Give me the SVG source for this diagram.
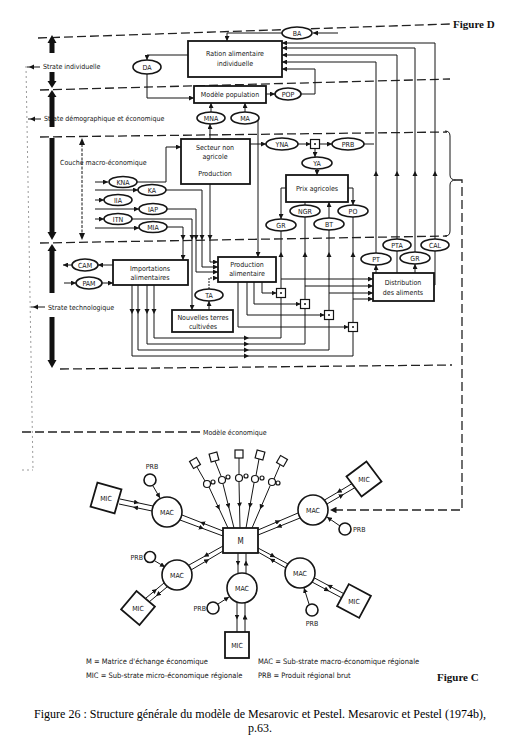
<svg xmlns="http://www.w3.org/2000/svg" width="520" height="740" viewBox="0 0 520 740">
<defs>
<style>
.ln{fill:none;stroke:#151515;stroke-width:1}
.bx{fill:#fff;stroke:#151515;stroke-width:1.8}
.el{fill:#fff;stroke:#151515;stroke-width:1.6}
.jn{fill:#fff;stroke:#151515;stroke-width:1.2}
.t{font-family:"Liberation Sans Narrow","DejaVu Sans Condensed","Liberation Sans",sans-serif;font-size:7px;fill:#151515;text-anchor:middle}
.tl{font-family:"Liberation Sans Narrow","DejaVu Sans Condensed","Liberation Sans",sans-serif;font-size:7px;fill:#151515;text-anchor:start}
.lg{font-family:"Liberation Sans Narrow","DejaVu Sans Condensed","Liberation Sans",sans-serif;font-size:7.5px;fill:#151515}
.dsh{fill:none;stroke:#222;stroke-width:1.3;stroke-dasharray:9 4}
.gd{fill:none;stroke:#9a9a9a;stroke-width:1;stroke-dasharray:2 3}
.bar{fill:#111}
.fig{font-family:"Liberation Serif",serif;font-weight:bold;font-size:11px;fill:#111}
.cap{font-family:"Liberation Serif",serif;font-size:12px;fill:#000;text-anchor:middle}
.ah{fill:#151515}
</style>
<marker id="a" viewBox="0 0 6 6" refX="6" refY="3" markerWidth="5" markerHeight="5" orient="auto"><path d="M0,0L6,3L0,6z" fill="#151515"/></marker>
<marker id="m" viewBox="0 0 6 6" refX="3" refY="3" markerWidth="5" markerHeight="5" orient="auto"><path d="M0,0L6,3L0,6z" fill="#151515"/></marker>
<path id="ah" d="M0,0L-5,-2.5L-5,2.5z"/>
</defs>

<!-- Figure D : strata -->
<g id="strata">
<path class="dsh" d="M38,38L450,24"/>
<path class="dsh" d="M40,90L450,79"/>
<path class="dsh" d="M40,137L447,132"/>
<path class="dsh" d="M40,243L447,236"/>
<path class="dsh" d="M60,369L452,365"/>
<path class="ln" d="M445,131Q450,131 450,136V175Q450,180 456,180Q450,180 450,185V231Q450,236 445,236"/>
<text class="fig" x="453" y="28">Figure D</text>
<path class="gd" d="M26,66L33,470M22,470H33"/>
<path class="ln" d="M27,67H40M28,119H41M31,307H45"/>
<use href="#ah" class="ah" transform="translate(29,67) rotate(180)"/>
<use href="#ah" class="ah" transform="translate(30,119) rotate(180)"/>
<use href="#ah" class="ah" transform="translate(33,307) rotate(180)"/>
<text class="tl" x="43" y="69">Strate individuelle</text>
<text class="tl" x="44" y="121">Strate démographique et économique</text>
<text class="tl" x="60" y="165">Couche macro-économique</text>
<text class="tl" x="48" y="310">Strate technologique</text>
<path class="dsh" d="M22,432H200"/>
<text class="tl" x="203" y="435">Modèle économique</text>
<g class="bar">
<polygon points="52,35 47.5,43 56.5,43"/><rect x="49.5" y="43" width="5" height="10"/>
<rect x="49.5" y="72" width="5" height="9"/><polygon points="47.5,81 56.5,81 52,88"/>
<polygon points="52,90 47.5,97 56.5,97"/><rect x="49.5" y="97" width="5" height="30"/>
<rect x="49.5" y="138" width="5" height="94"/><polygon points="47.5,232 56.5,232 52,240"/>
<polygon points="52,244 47.5,251 56.5,251"/><rect x="49.5" y="251" width="5" height="42"/>
<rect x="49.5" y="317" width="5" height="43"/><polygon points="47.5,360 56.5,360 52,368"/>
</g>
<path class="ln" d="M82,144V234" stroke-dasharray="3 1.5"/>
<polygon class="ah" points="82,138 79,145 85,145"/>
<polygon class="ah" points="82,240 79,233 85,233"/>
</g>

<g id="connectors">
<path class="ln" d="M338,33H313" marker-end="url(#a)"/>
<path class="ln" d="M282,33H227V41" marker-end="url(#a)"/>
<path class="ln" d="M188,55H147V60" marker-end="url(#a)"/>
<path class="ln" d="M147,74V98H194" marker-end="url(#a)"/>
<path class="ln" d="M266,94H275" marker-end="url(#a)"/>
<path class="ln" d="M301,94H315V69H282" marker-end="url(#a)"/>
<path class="ln" d="M211,112V103" marker-end="url(#a)"/>
<path class="ln" d="M245,112V103" marker-end="url(#a)"/>
<path class="ln" d="M210,139V124" marker-end="url(#a)"/>
<path class="ln" d="M258,120V257" marker-end="url(#a)"/>
<path class="ln" d="M250,144H266" marker-end="url(#a)"/>
<path class="ln" d="M298,144H310.5" marker-end="url(#a)"/>
<path class="ln" d="M319.5,144H332" marker-end="url(#a)"/>
<path class="ln" d="M364,144H374"/>
<path class="ln" d="M315,148.5V157" marker-end="url(#a)"/>
<path class="ln" d="M317,169V175" marker-end="url(#a)"/>
<path class="ln" d="M286,188H281V219" marker-end="url(#a)"/>
<path class="ln" d="M348,188H353V205" marker-end="url(#a)"/>
<path class="ln" d="M305,202V205"/>
<path class="ln" d="M329,218V202" marker-end="url(#a)"/>
<!-- imports to sums -->
<path class="ln" d="M154,285V338H281V231"/>
<path class="ln" d="M147,285V344H305V217"/>
<path class="ln" d="M138,285V350H329V230"/>
<path class="ln" d="M132,285V356H353V217"/>
<use href="#ah" class="ah" transform="translate(154,314) rotate(90)"/>
<use href="#ah" class="ah" transform="translate(147,314) rotate(90)"/>
<use href="#ah" class="ah" transform="translate(138,314) rotate(90)"/>
<use href="#ah" class="ah" transform="translate(132,314) rotate(90)"/>
<use href="#ah" class="ah" transform="translate(249,338)"/>
<use href="#ah" class="ah" transform="translate(249,344)"/>
<use href="#ah" class="ah" transform="translate(249,350)"/>
<use href="#ah" class="ah" transform="translate(249,356)"/>
<use href="#ah" class="ah" transform="translate(281,252) rotate(-90)"/>
<use href="#ah" class="ah" transform="translate(305,252) rotate(-90)"/>
<use href="#ah" class="ah" transform="translate(329,252) rotate(-90)"/>
<use href="#ah" class="ah" transform="translate(353,252) rotate(-90)"/>
<!-- production to sums -->
<path class="ln" d="M262,282V293H276.5" marker-end="url(#a)"/>
<path class="ln" d="M254,282V304H300.5" marker-end="url(#a)"/>
<path class="ln" d="M247,282V315H324.5" marker-end="url(#a)"/>
<path class="ln" d="M238,282V327H348.5" marker-end="url(#a)"/>
<!-- to distribution -->
<path class="ln" d="M281,279H373" marker-end="url(#a)"/>
<path class="ln" d="M305,286H373" marker-end="url(#a)"/>
<path class="ln" d="M329,293H373" marker-end="url(#a)"/>
<path class="ln" d="M353,299H373" marker-end="url(#a)"/>
<path class="ln" d="M376,273V265" marker-end="url(#a)"/>
<path class="ln" d="M415,273V264" marker-end="url(#a)"/>
<path class="ln" d="M397,251V273"/>
<path class="ln" d="M435,251V285H434"/>
<!-- back to ration -->
<path class="ln" d="M376,253V62H282" marker-end="url(#a)"/>
<path class="ln" d="M397,239V55H282" marker-end="url(#a)"/>
<path class="ln" d="M415,252V48H282" marker-end="url(#a)"/>
<path class="ln" d="M435,239V43H282" marker-end="url(#a)"/>
<use href="#ah" class="ah" transform="translate(376,171) rotate(-90)"/>
<use href="#ah" class="ah" transform="translate(397,171) rotate(-90)"/>
<use href="#ah" class="ah" transform="translate(415,171) rotate(-90)"/>
<use href="#ah" class="ah" transform="translate(435,171) rotate(-90)"/>
<!-- macro inputs -->
<path class="ln" d="M95,182H108" marker-end="url(#a)"/>
<path class="ln" d="M95,200H104" marker-end="url(#a)"/>
<path class="ln" d="M95,219H104" marker-end="url(#a)"/>
<path class="ln" d="M95,190H138" marker-end="url(#a)"/>
<path class="ln" d="M95,209H139" marker-end="url(#a)"/>
<path class="ln" d="M95,228H139" marker-end="url(#a)"/>
<path class="ln" d="M137,182H166V147H181" marker-end="url(#a)"/>
<path class="ln" d="M166,190H202V267H218" marker-end="url(#a)"/>
<path class="ln" d="M167,209H196V272H218" marker-end="url(#a)"/>
<path class="ln" d="M210,184V262H218" marker-end="url(#a)"/>
<path class="ln" d="M167,227H183V260" marker-end="url(#a)"/>
<path class="ln" d="M132,219H192V310" marker-end="url(#a)"/>
<use href="#ah" class="ah" transform="translate(202,240) rotate(90)"/>
<use href="#ah" class="ah" transform="translate(196,240) rotate(90)"/>
<use href="#ah" class="ah" transform="translate(210,240) rotate(90)"/>
<use href="#ah" class="ah" transform="translate(183,240) rotate(90)"/>
<use href="#ah" class="ah" transform="translate(192,240) rotate(90)"/>
<path class="ln" d="M209,289V278H218" marker-end="url(#a)" stroke-dasharray="2 1"/>
<path class="ln" d="M209,310V301" marker-end="url(#a)"/>
<path class="ln" d="M113,265H98" marker-end="url(#a)"/>
<path class="ln" d="M72,265H63" marker-end="url(#a)"/>
<path class="ln" d="M64,283H76" marker-end="url(#a)"/>
<path class="ln" d="M102,283H113" marker-end="url(#a)"/>
<!-- link to figure C -->
<path class="dsh" d="M456,180H462V510H330" marker-end="url(#a)"/>

<!-- Figure C links -->
<path class="ln" d="M180,520L201.5,528L223,536" marker-mid="url(#m)"/>
<path class="ln" d="M223,531L202.5,523L182,515" marker-mid="url(#m)"/>
<path class="ln" d="M120,499L136.5,502.5L153,506" marker-mid="url(#m)"/>
<path class="ln" d="M152,511L135.5,507.5L119,504" marker-mid="url(#m)"/>
<path class="ln" d="M191,570L207,560.5L223,551" marker-mid="url(#m)"/>
<path class="ln" d="M223,546L206,555.5L189,565" marker-mid="url(#m)"/>
<path class="ln" d="M167,587L158,594.5L149,602" marker-mid="url(#m)"/>
<path class="ln" d="M146,598L155,590.5L164,583" marker-mid="url(#m)"/>
<path class="ln" d="M300,518L279,526.5L258,535" marker-mid="url(#m)"/>
<path class="ln" d="M258,530L278,521.5L298,513" marker-mid="url(#m)"/>
<path class="ln" d="M327,504L341.5,495.5L356,487" marker-mid="url(#m)"/>
<path class="ln" d="M353,483L339,491.5L324.5,500" marker-mid="url(#m)"/>
<path class="ln" d="M286,568L272,560L258,552" marker-mid="url(#m)"/>
<path class="ln" d="M258,548L273,556L288,564" marker-mid="url(#m)"/>
<path class="ln" d="M312,582L327,590L342,598" marker-mid="url(#m)"/>
<path class="ln" d="M344.5,594L329.5,586L314.5,578" marker-mid="url(#m)"/>
<path class="ln" d="M238,553L238,563L238,573.5" marker-mid="url(#m)"/>
<path class="ln" d="M246,573.5L246,563L246,553" marker-mid="url(#m)"/>
<path class="ln" d="M237,602.5L237,617L237,632" marker-mid="url(#m)"/>
<path class="ln" d="M245,632L245,617L245,602.5" marker-mid="url(#m)"/>
<path class="ln" d="M153,486L160,498" marker-end="url(#a)"/>
<path class="ln" d="M155,561L165,567" marker-end="url(#a)"/>
<path class="ln" d="M340,526L327,517" marker-end="url(#a)"/>
<path class="ln" d="M218,604L229,597" marker-end="url(#a)"/>
<path class="ln" d="M309,604L304,588" marker-end="url(#a)"/>
<path class="ln" d="M209,487L218.5,507.5L228,528" marker-mid="url(#m)"/>
<path class="ln" d="M223,484L228.5,506L234,528" marker-mid="url(#m)"/>
<path class="ln" d="M239,482L239.5,505L240,528" marker-mid="url(#m)"/>
<path class="ln" d="M254,483L250,505.5L246,528" marker-mid="url(#m)"/>
<path class="ln" d="M270,486L261,507L252,528" marker-mid="url(#m)"/>
<path class="ln" d="M197,467L205,481M215,461L221,476M239,458V474.5M259,459L256,475.5M280,465L274,479"/>
</g>

<!-- Figure D nodes -->
<g id="n-ration"><rect class="bx" x="188" y="41" width="94" height="36"/><text class="t" x="235" y="56">Ration alimentaire</text><text class="t" x="235" y="66">individuelle</text></g>
<g id="n-ba"><ellipse class="el" cx="297" cy="33" rx="15" ry="6"/><text class="t" x="297" y="35.5">BA</text></g>
<g id="n-da"><ellipse class="el" cx="147" cy="67" rx="14" ry="7"/><text class="t" x="147" y="69.5">DA</text></g>
<g id="n-pop-model"><rect class="bx" x="194" y="86" width="72" height="17"/><text class="t" x="230" y="97">Modèle population</text></g>
<g id="n-pop"><ellipse class="el" cx="288" cy="94" rx="13" ry="6"/><text class="t" x="288" y="96.5">POP</text></g>
<g id="n-mna"><ellipse class="el" cx="211" cy="118" rx="14" ry="6"/><text class="t" x="211" y="120.5">MNA</text></g>
<g id="n-ma"><ellipse class="el" cx="245" cy="118" rx="14" ry="6"/><text class="t" x="245" y="120.5">MA</text></g>
<g id="n-secteur"><rect class="bx" x="181" y="139" width="69" height="45"/><text class="t" x="215" y="150">Secteur non</text><text class="t" x="215" y="159">agricole</text><text class="t" x="215" y="176">Production</text></g>
<g id="n-yna"><ellipse class="el" cx="282" cy="144" rx="16" ry="6"/><text class="t" x="282" y="146.5">YNA</text></g>
<g id="n-j1"><rect class="jn" x="310.5" y="139.5" width="9" height="9"/><circle cx="315" cy="144" r="1" fill="#151515"/></g>
<g id="n-prb"><ellipse class="el" cx="348" cy="144" rx="16" ry="6"/><text class="t" x="348" y="146.5">PRB</text></g>
<g id="n-ya"><ellipse class="el" cx="317" cy="163" rx="15" ry="6"/><text class="t" x="317" y="165.5">YA</text></g>
<g id="n-prix"><rect class="bx" x="286" y="175" width="62" height="27"/><text class="t" x="317" y="191">Prix agricoles</text></g>
<g id="n-gr1"><ellipse class="el" cx="281" cy="225" rx="15" ry="6"/><text class="t" x="281" y="227.5">GR</text></g>
<g id="n-ngr"><ellipse class="el" cx="305" cy="211" rx="15" ry="6"/><text class="t" x="305" y="213.5">NGR</text></g>
<g id="n-bt"><ellipse class="el" cx="329" cy="224" rx="15" ry="6"/><text class="t" x="329" y="226.5">BT</text></g>
<g id="n-po"><ellipse class="el" cx="353" cy="211" rx="15" ry="6"/><text class="t" x="353" y="213.5">PO</text></g>
<g id="n-kna"><ellipse class="el" cx="123" cy="182" rx="14" ry="5.5"/><text class="t" x="123" y="184.5">KNA</text></g>
<g id="n-ka"><ellipse class="el" cx="152" cy="190" rx="14" ry="5.5"/><text class="t" x="152" y="192.5">KA</text></g>
<g id="n-iia"><ellipse class="el" cx="118" cy="200" rx="14" ry="5.5"/><text class="t" x="118" y="202.5">IIA</text></g>
<g id="n-iap"><ellipse class="el" cx="153" cy="209" rx="14" ry="5.5"/><text class="t" x="153" y="211.5">IAP</text></g>
<g id="n-itn"><ellipse class="el" cx="118" cy="219" rx="14" ry="5.5"/><text class="t" x="118" y="221.5">ITN</text></g>
<g id="n-mia"><ellipse class="el" cx="153" cy="227" rx="14" ry="5.5"/><text class="t" x="153" y="229.5">MIA</text></g>
<g id="n-import"><rect class="bx" x="113" y="260" width="75" height="25"/><text class="t" x="150" y="271">Importations</text><text class="t" x="150" y="280">alimentaires</text></g>
<g id="n-cam"><ellipse class="el" cx="85" cy="265" rx="13" ry="6"/><text class="t" x="85" y="267.5">CAM</text></g>
<g id="n-pam"><ellipse class="el" cx="89" cy="283" rx="13" ry="6"/><text class="t" x="89" y="285.5">PAM</text></g>
<g id="n-prod"><rect class="bx" x="218" y="257" width="58" height="25"/><text class="t" x="247" y="267">Production</text><text class="t" x="247" y="276">alimentaire</text></g>
<g id="n-ta"><ellipse class="el" cx="209" cy="295" rx="14" ry="6"/><text class="t" x="209" y="297.5">TA</text></g>
<g id="n-nt"><rect class="bx" x="172" y="310" width="61" height="22"/><text class="t" x="203" y="320">Nouvelles terres</text><text class="t" x="203" y="329">cultivées</text></g>
<g id="n-dist"><rect class="bx" x="373" y="273" width="61" height="28"/><text class="t" x="403" y="285">Distribution</text><text class="t" x="403" y="295">des aliments</text></g>
<g id="n-pt"><ellipse class="el" cx="376" cy="259" rx="15" ry="6"/><text class="t" x="376" y="261.5">PT</text></g>
<g id="n-pta"><ellipse class="el" cx="397" cy="245" rx="14" ry="6"/><text class="t" x="397" y="247.5">PTA</text></g>
<g id="n-gr2"><ellipse class="el" cx="415" cy="258" rx="15" ry="6"/><text class="t" x="415" y="260.5">GR</text></g>
<g id="n-cal"><ellipse class="el" cx="435" cy="245" rx="14" ry="6"/><text class="t" x="435" y="247.5">CAL</text></g>
<g id="n-j2"><rect class="jn" x="276.5" y="288.5" width="9" height="9"/><circle cx="281" cy="293" r="1" fill="#151515"/></g>
<g id="n-j3"><rect class="jn" x="300.5" y="299.5" width="9" height="9"/><circle cx="305" cy="304" r="1" fill="#151515"/></g>
<g id="n-j4"><rect class="jn" x="324.5" y="310.5" width="9" height="9"/><circle cx="329" cy="315" r="1" fill="#151515"/></g>
<g id="n-j5"><rect class="jn" x="348.5" y="322.5" width="9" height="9"/><circle cx="353" cy="327" r="1" fill="#151515"/></g>

<!-- Figure C nodes -->
<g id="c-m"><rect class="bx" x="223" y="528" width="35" height="25"/><text class="t" x="240.5" y="543.5" style="font-size:8px">M</text></g>
<g id="c-mac-tl"><circle class="el" cx="167" cy="512" r="15"/><text class="t" x="167" y="514.5">MAC</text></g>
<g id="c-mac-r"><circle class="el" cx="313" cy="510" r="15"/><text class="t" x="313" y="512.5">MAC</text></g>
<g id="c-mac-bl"><circle class="el" cx="177" cy="575" r="15"/><text class="t" x="177" y="577.5">MAC</text></g>
<g id="c-mac-b"><circle class="el" cx="242" cy="588" r="15"/><text class="t" x="242" y="590.5">MAC</text></g>
<g id="c-mac-br"><circle class="el" cx="300" cy="573" r="15"/><text class="t" x="300" y="575.5">MAC</text></g>
<g id="c-mic-tl"><rect class="bx" x="-12.5" y="-12.5" width="25" height="25" transform="translate(106,498) rotate(16)"/><text class="t" x="106" y="500.5">MIC</text></g>
<g id="c-mic-tr"><rect class="bx" x="-12.5" y="-12.5" width="25" height="25" transform="translate(364,479) rotate(53)"/><text class="t" x="364" y="481.5">MIC</text></g>
<g id="c-mic-bl"><rect class="bx" x="-12" y="-12" width="24" height="24" transform="translate(138,608) rotate(40)"/><text class="t" x="138" y="610.5">MIC</text></g>
<g id="c-mic-br"><rect class="bx" x="-12.5" y="-12.5" width="25" height="25" transform="translate(354,601) rotate(28)"/><text class="t" x="354" y="603.5">MIC</text></g>
<g id="c-mic-b"><rect class="bx" x="225" y="632" width="24" height="26"/><text class="t" x="237" y="647.5">MIC</text></g>
<g id="c-prb-tl"><circle class="el" cx="150" cy="480" r="6"/><text class="t" x="152" y="469">PRB</text></g>
<g id="c-prb-r"><circle class="el" cx="345" cy="529" r="6"/><text class="tl" x="353" y="532">PRB</text></g>
<g id="c-prb-bl"><circle class="el" cx="150" cy="557" r="5.5"/><text class="t" x="143" y="560" style="text-anchor:end">PRB</text></g>
<g id="c-prb-b"><circle class="el" cx="213" cy="608" r="6"/><text class="t" x="206" y="611" style="text-anchor:end">PRB</text></g>
<g id="c-prb-br"><circle class="el" cx="312" cy="610" r="6"/><text class="t" x="312" y="626">PRB</text></g>
<g id="c-fan">
<rect class="jn" x="-4" y="-4" width="8" height="8" transform="translate(195,463) rotate(-30)"/>
<rect class="jn" x="-4" y="-4" width="8" height="8" transform="translate(214,457) rotate(-15)"/>
<rect class="jn" x="-4" y="-4" width="8" height="8" transform="translate(239,454)"/>
<rect class="jn" x="-4" y="-4" width="8" height="8" transform="translate(260,455) rotate(15)"/>
<rect class="jn" x="-4" y="-4" width="8" height="8" transform="translate(282,461) rotate(30)"/>
<circle class="jn" cx="207" cy="484" r="3.5"/><circle class="jn" cx="213" cy="482" r="2"/>
<circle class="jn" cx="222" cy="480" r="3.5"/><circle class="jn" cx="228" cy="477" r="2"/>
<circle class="jn" cx="239" cy="478" r="3.5"/><circle class="jn" cx="246" cy="476" r="2"/>
<circle class="jn" cx="255" cy="479" r="3.5"/><circle class="jn" cx="262" cy="478" r="2"/>
<circle class="jn" cx="272" cy="482" r="3.5"/><circle class="jn" cx="278" cy="483" r="2"/>
</g>
<g id="legend">
<text class="lg" x="86" y="664">M = Matrice d'échange économique</text>
<text class="lg" x="86" y="678">MIC = Sub-strate micro-économique régionale</text>
<text class="lg" x="258" y="664">MAC = Sub-strate macro-économique régionale</text>
<text class="lg" x="258" y="678">PRB = Produit régional brut</text>
<text class="fig" x="437" y="681">Figure C</text>
</g>
<g id="caption">
<text class="cap" x="260" y="718">Figure 26 : Structure générale du modèle de Mesarovic et Pestel. Mesarovic et Pestel (1974b),</text>
<text class="cap" x="260" y="732">p.63.</text>
</g>
</svg>
